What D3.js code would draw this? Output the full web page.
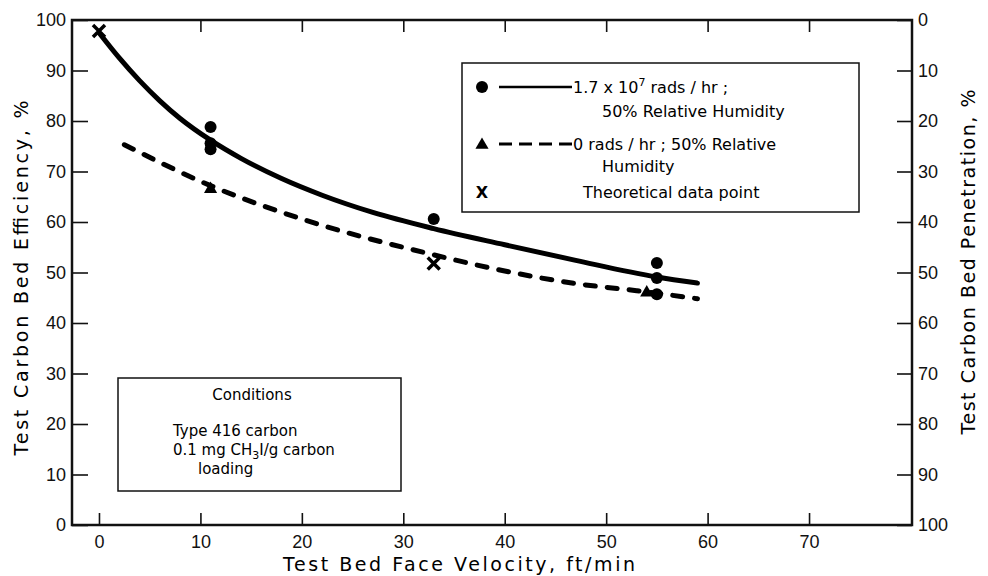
<!DOCTYPE html>
<html>
<head>
<meta charset="utf-8">
<script src="https://cdn.jsdelivr.net/npm/d3@7"></script>
<style>
  body { margin: 0; background: #fff; }
  svg { font-family: "DejaVu Sans", sans-serif; }
  .eje text { font-size: 18px; fill: #111; }
  .eje line { stroke: #111; stroke-width: 1.6; }
  .eje path { display: none; }
</style>
</head>
<body>
<div id="graf"></div>
<script>
// datos leidos de la figura
// curva continua: 1.7 x 10^7 rads/hr
curvaRadX = [0, 2, 4, 6, 8, 11, 14, 18, 22, 27, 33, 40, 47, 55, 59]
curvaRadY = [97.5, 92.5, 88.0, 84.0, 80.5, 76.2, 72.6, 68.6, 65.3, 61.9, 58.7, 55.5, 52.4, 49.1, 47.9]
// curva discontinua: 0 rads/hr
curvaSinX = [2.5, 11, 20, 33, 40, 47, 53, 59]
curvaSinY = [75.3, 67.2, 60.6, 53.5, 50.3, 47.8, 46.4, 44.8]
// puntos medidos
puntosRadX = [11, 11, 11, 33, 55, 55, 55]
puntosRadY = [78.8, 75.6, 74.4, 60.6, 51.9, 48.9, 45.7]
puntosSinX = [11, 54]
puntosSinY = [66.5, 46]
teoricoX = [0, 33]
teoricoY = [97.8, 51.8]
// ticks
ticksX = [0, 10, 20, 30, 40, 50, 60, 70]
ticksArriba = [10, 20, 30, 40, 50, 60, 70]
ticksY = [0, 10, 20, 30, 40, 50, 60, 70, 80, 90, 100]

ancho_total = 988
alto_total = 576
margins = { top: 20, left: 72, right: 76, bottom: 51 }
ancho = ancho_total - margins.left - margins.right
alto = alto_total - margins.top - margins.bottom

svg = d3.select('#graf').append('svg')
        .attr('width', ancho_total)
        .attr('height', alto_total)

g = svg.append('g')
        .attr('transform', `translate(${margins.left}, ${margins.top})`)

// Escaladores
x = d3.scaleLinear().domain([-2.66, 80.15]).range([0, ancho])
y = d3.scaleLinear().domain([0, 100]).range([alto, 0])
yDer = d3.scaleLinear().domain([0, 100]).range([0, alto])

// ejes con ticks hacia dentro
g.append('g').attr('class', 'eje')
        .call(d3.axisLeft(y).tickValues(ticksY).tickSize(-16).tickPadding(6))
g.append('g').attr('class', 'eje')
        .attr('transform', `translate(${ancho}, 0)`)
        .call(d3.axisRight(yDer).tickValues(ticksY).tickSize(-15).tickPadding(6))
g.append('g').attr('class', 'eje')
        .attr('transform', `translate(0, ${alto})`)
        .call(d3.axisBottom(x).tickValues(ticksX).tickSize(-12).tickPadding(10))
g.append('g').attr('class', 'eje')
        .call(d3.axisTop(x).tickValues(ticksArriba).tickSize(-12).tickFormat(''))

// marco
g.append('rect')
        .attr('width', ancho).attr('height', alto)
        .attr('fill', 'none').attr('stroke', '#111').attr('stroke-width', 2.5)

// Funcion para dibujar linea
var linea = d3.line()
        .x(d => x(d[0]))
        .y(d => y(d[1]))
        .curve(d3.curveMonotoneX)

g.append('path')
        .attr('d', linea(d3.zip(curvaRadX, curvaRadY)))
        .attr('fill', 'none').attr('stroke', '#000')
        .attr('stroke-width', 5).attr('stroke-linecap', 'round')

g.append('path')
        .attr('d', linea(d3.zip(curvaSinX, curvaSinY)))
        .attr('fill', 'none').attr('stroke', '#000')
        .attr('stroke-width', 5).attr('stroke-linecap', 'round')
        .attr('stroke-dasharray', '10,12')

// puntos
g.selectAll('.circulo')
        .data(d3.zip(puntosRadX, puntosRadY))
        .enter().append('circle')
        .attr('class', 'circulo')
        .attr('cx', d => x(d[0])).attr('cy', d => y(d[1]))
        .attr('r', 6).attr('fill', '#000')

triangulo = d3.symbol().type(d3.symbolTriangle).size(75)
g.selectAll('.triangulo')
        .data(d3.zip(puntosSinX, puntosSinY))
        .enter().append('path')
        .attr('class', 'triangulo')
        .attr('transform', d => `translate(${x(d[0])}, ${y(d[1])})`)
        .attr('d', triangulo).attr('fill', '#000')

function cruz(sel, t) {
        sel.append('path')
                .attr('d', `M${-t},${-t}L${t},${t}M${t},${-t}L${-t},${t}`)
                .attr('stroke', '#000').attr('stroke-width', 3.5)
}
g.selectAll('.teorico')
        .data(d3.zip(teoricoX, teoricoY))
        .enter().append('g')
        .attr('class', 'teorico')
        .attr('transform', d => `translate(${x(d[0])}, ${y(d[1])})`)
        .each(function () { cruz(d3.select(this), 6) })

// titulos de ejes
svg.append('text')
        .attr('transform', 'translate(28, 278) rotate(-90)')
        .attr('text-anchor', 'middle')
        .attr('font-size', 19)
        .attr('textLength', 355).attr('lengthAdjust', 'spacing')
        .text('Test Carbon Bed Efficiency, %')

svg.append('text')
        .attr('transform', 'translate(975, 262) rotate(-90)')
        .attr('text-anchor', 'middle')
        .attr('font-size', 19)
        .attr('textLength', 345).attr('lengthAdjust', 'spacing')
        .text('Test Carbon Bed Penetration, %')

svg.append('text')
        .attr('x', 459).attr('y', 571)
        .attr('text-anchor', 'middle')
        .attr('font-size', 19)
        .attr('textLength', 352).attr('lengthAdjust', 'spacing')
        .text('Test Bed Face Velocity, ft/min')

// leyenda
leyenda = svg.append('g')
leyenda.append('rect')
        .attr('x', 462).attr('y', 63).attr('width', 397).attr('height', 149)
        .attr('fill', '#fff').attr('stroke', '#111').attr('stroke-width', 1.5)

leyenda.append('circle').attr('cx', 482).attr('cy', 87).attr('r', 6).attr('fill', '#000')
leyenda.append('line').attr('x1', 499).attr('x2', 572).attr('y1', 87).attr('y2', 87)
        .attr('stroke', '#000').attr('stroke-width', 2.5)
t1 = leyenda.append('text').attr('x', 573).attr('y', 93).attr('font-size', 16)
t1.append('tspan').text('1.7 x 10')
t1.append('tspan').attr('dy', -7).attr('font-size', 11).text('7')
t1.append('tspan').attr('dy', 7).text(' rads / hr ;')
leyenda.append('text').attr('x', 602).attr('y', 117).attr('font-size', 16)
        .text('50% Relative  Humidity')

leyenda.append('path').attr('d', triangulo)
        .attr('transform', 'translate(482, 145)').attr('fill', '#000')
leyenda.append('line').attr('x1', 499).attr('x2', 572).attr('y1', 144).attr('y2', 144)
        .attr('stroke', '#000').attr('stroke-width', 3).attr('stroke-dasharray', '13,7')
leyenda.append('text').attr('x', 573).attr('y', 150).attr('font-size', 16)
        .text('0 rads / hr ;  50% Relative')
leyenda.append('text').attr('x', 602).attr('y', 172).attr('font-size', 16)
        .text('Humidity')

leyenda.append('text').attr('x', 482).attr('y', 198).attr('font-size', 16)
        .attr('font-weight', 'bold').attr('text-anchor', 'middle').text('X')
leyenda.append('text').attr('x', 583).attr('y', 198).attr('font-size', 16)
        .text('Theoretical  data  point')

// recuadro de condiciones
cond = svg.append('g')
cond.append('rect')
        .attr('x', 118).attr('y', 378).attr('width', 283).attr('height', 113)
        .attr('fill', '#fff').attr('stroke', '#111').attr('stroke-width', 1.5)
cond.append('text').attr('x', 252).attr('y', 400).attr('text-anchor', 'middle')
        .attr('font-size', 15).text('Conditions')
cond.append('text').attr('x', 173).attr('y', 436).attr('font-size', 15)
        .text('Type  416  carbon')
c3 = cond.append('text').attr('x', 173).attr('y', 455).attr('font-size', 15)
c3.append('tspan').text('0.1  mg  CH')
c3.append('tspan').attr('dy', 4).attr('font-size', 11).text('3')
c3.append('tspan').attr('dy', -4).text('I/g  carbon')
cond.append('text').attr('x', 198).attr('y', 474).attr('font-size', 15)
        .text('loading')
</script>
</body>
</html>
